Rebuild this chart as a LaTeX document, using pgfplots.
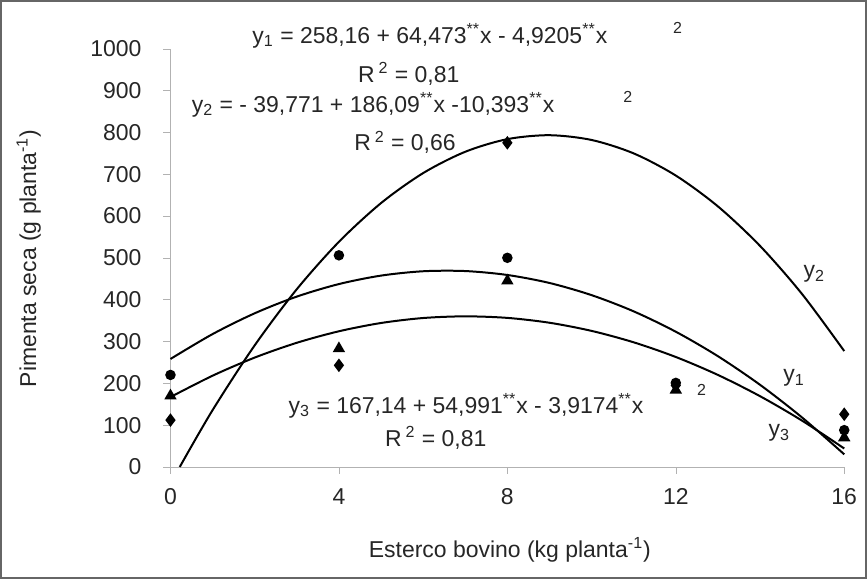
\documentclass[border=0pt]{standalone}
\usepackage{fontspec}
\setmainfont{Liberation Sans}
\usepackage{pgfplots}
\pgfplotsset{compat=1.18}

\newcommand{\st}{\textsuperscript{**}}

\begin{document}
\begin{tikzpicture}
\fontsize{11.5}{13}\selectfont
% outer frame of the figure
\draw[black!60, line width=0.8pt] (-85pt,-55.5pt) rectangle (348.5pt,233.5pt);

\begin{axis}[
  at={(0,0)}, anchor=origin,
  scale only axis, width=337.5pt, height=209.5pt,
  xmin=0, xmax=16, ymin=0, ymax=1000,
  axis x line*=bottom, axis y line*=left,
  axis line style={black!30, -},
  xtick={0,4,8,12,16}, ytick={0,100,...,1000},
  tick align=outside, major tick length=3.5pt,
  tick style={black!30},
  /pgf/number format/assume math mode=true,
  /pgf/number format/1000 sep={},
  tick label style={font=\fontsize{11.5}{13}\selectfont, text=black!85},
  yticklabel style={xshift=-7pt},
  xticklabel style={yshift=-3.5pt},
  clip=false,
  every axis plot/.append style={line width=1pt},
]

% regression curves
\addplot[black, smooth] coordinates {
  (0,258.2) (1,317.7) (2,367.4) (3,407.3) (4,437.3) (5,457.5) (6,467.9)
  (7,468.4) (8,459.0) (9,439.9) (10,410.8) (11,372.0) (12,323.3)
  (13,264.8) (14,196.4) (15,118.1) (16,30.1)};
\addplot[black, smooth] coordinates {
  (0.22,0) (1,135.9) (2,290.8) (3,425.0) (4,538.3) (5,630.9) (6,702.6)
  (7,753.6) (8,783.8) (9,793.2) (10,781.8) (11,749.7) (12,696.7)
  (13,623.0) (14,528.5) (15,413.2) (16,277.1)};
\addplot[black, smooth] coordinates {
  (0,167.1) (1,218.2) (2,261.5) (3,296.9) (4,324.4) (5,344.2) (6,356.1)
  (7,360.1) (8,356.4) (9,344.8) (10,325.3) (11,298.0) (12,262.9)
  (13,220.0) (14,169.2) (15,110.6) (16,44.1)};

% observed points
\addplot[only marks, mark=diamond*, mark size=2.6pt, black] coordinates {
  (0,112) (4,243) (8,775) (12,195) (16,126)};
\addplot[only marks, mark=*, mark size=2.1pt, black] coordinates {
  (0,220) (4,506) (8,500) (12,201) (16,88)};
\addplot[only marks, mark=triangle*, mark size=2.6pt, black] coordinates {
  (0,170) (4,283) (8,445) (12,184) (16,70)};

% equations
\node[text=black!85] at (axis cs:6.16,1031) {y\textsubscript{1} = 258,16 + 64,473\st x - 4,9205\st x};
\node[text=black!85, font=\fontsize{8}{9}\selectfont] at (axis cs:12.04,1050) {2};
\node[text=black!85] at (axis cs:5.66,940) {R\,\textsuperscript{2} = 0,81};
\node[text=black!85] at (axis cs:4.81,866) {y\textsubscript{2} = - 39,771 + 186,09\st x -10,393\st x};
\node[text=black!85, font=\fontsize{8}{9}\selectfont] at (axis cs:10.86,885) {2};
\node[text=black!85] at (axis cs:5.57,776) {R\,\textsuperscript{2} = 0,66};
\node[text=black!85] at (axis cs:7.02,146) {y\textsubscript{3} = 167,14 + 54,991\st x - 3,9174\st x};
\node[text=black!85, font=\fontsize{8}{9}\selectfont] at (axis cs:12.61,183) {2};
\node[text=black!85] at (axis cs:6.3,69) {R\,\textsuperscript{2} = 0,81};
\node[text=black!85] at (axis cs:15.29,461) {y\textsubscript{2}};
\node[text=black!85] at (axis cs:14.81,212) {y\textsubscript{1}};
\node[text=black!85] at (axis cs:14.46,81) {y\textsubscript{3}};
\end{axis}

% axis titles
\node[text=black!85, rotate=90] at (-71pt,104.5pt) {Pimenta seca (g planta\textsuperscript{-1})};
\node[text=black!85] at (170pt,-41.5pt) {Esterco bovino (kg planta\textsuperscript{-1})};
\end{tikzpicture}
\end{document}
